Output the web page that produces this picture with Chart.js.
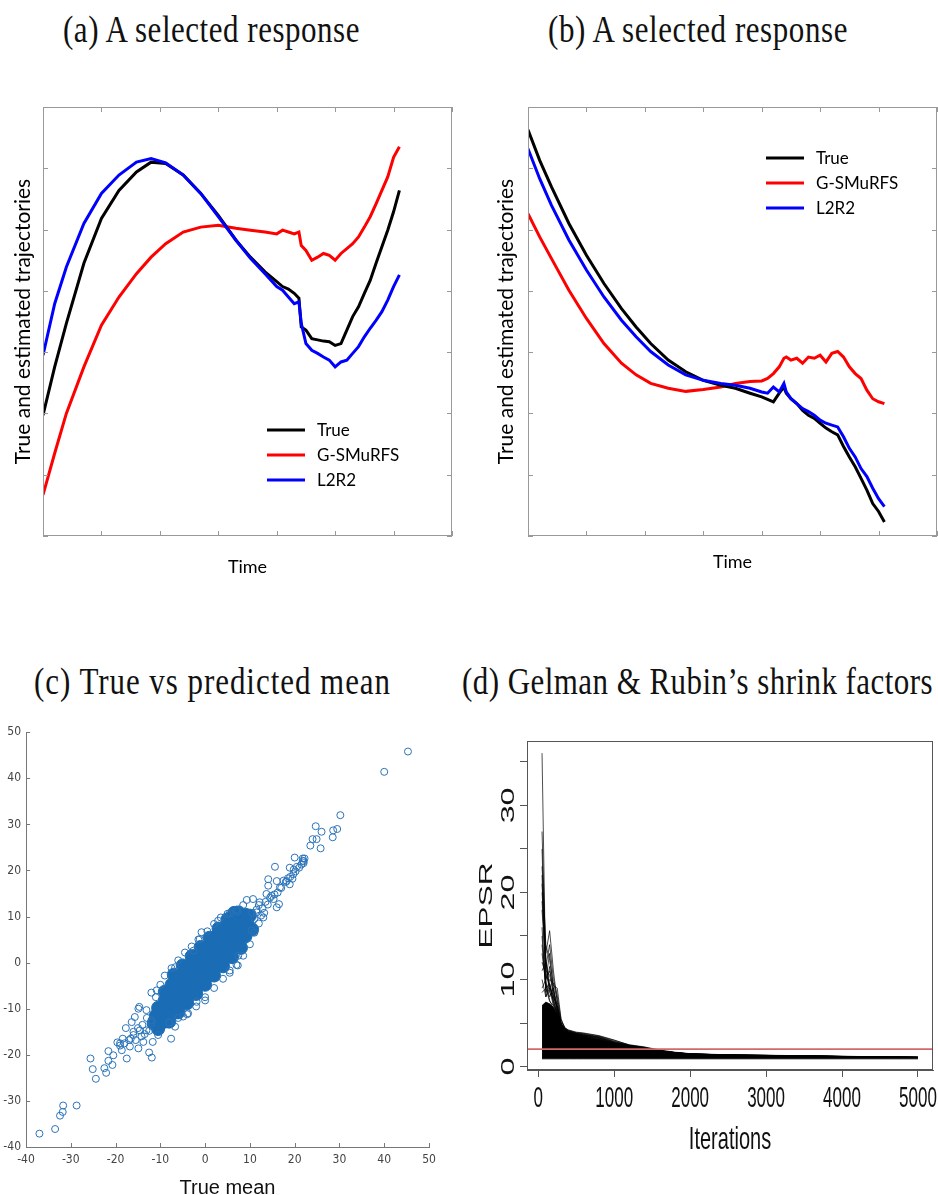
<!DOCTYPE html>
<html>
<head>
<meta charset="utf-8">
<script src="https://cdn.jsdelivr.net/npm/chart.js@4.4.1/dist/chart.umd.min.js"></script>
<style>
  html, body { margin: 0; padding: 0; background: #fff; }
  body { position: relative; width: 938px; height: 1195px; overflow: hidden; }
  .cap { position: absolute; font-family: "Liberation Serif", "Times New Roman", serif; font-size: 31px;
         line-height: 36px; color: #111; white-space: nowrap; transform: scaleY(1.2); transform-origin: 50% 50%; }
  canvas { position: absolute; }
</style>
</head>
<body>
<div class="cap" data-w="297" style="left:63px;top:12px">(a) A selected response</div>
<div class="cap" data-w="300" style="left:548px;top:12px">(b) A selected response</div>
<div class="cap" data-w="357" style="left:34px;top:664px">(c) True vs predicted mean</div>
<div class="cap" data-w="471" style="left:462px;top:664px">(d) Gelman &amp; Rubin’s shrink factors</div>

<canvas id="chartA" width="470" height="500" style="left:0;top:90px"></canvas>
<canvas id="chartB" width="458" height="500" style="left:480px;top:90px"></canvas>
<canvas id="chartC" width="450" height="490" style="left:0;top:720px"></canvas>
<canvas id="chartD" width="478" height="475" style="left:460px;top:720px"></canvas>

<script>
// captions: adjust the letter spacing so each caption has the width of the original
document.querySelectorAll('.cap').forEach(el => {
  const w = el.getBoundingClientRect().width;
  el.style.letterSpacing = ((+el.dataset.w - w) / el.textContent.length) + 'px';
});

// (a) and (b): trajectories (axis units 0..7, no labels)
const timeGrid = [0, 0.2, 0.4, 0.7, 1.0, 1.3, 1.6, 1.85, 2.1, 2.4, 2.7, 3.0, 3.3, 3.55, 3.8, 4.0, 4.1, 4.2, 4.3,
  4.38, 4.42, 4.5, 4.6, 4.7, 4.8, 4.9, 5.0, 5.1, 5.2, 5.3, 5.4, 5.5, 5.6, 5.7, 5.8, 5.9, 6.0, 6.1];

const aTrue = [1.97, 2.76, 3.47, 4.45, 5.18, 5.64, 5.94, 6.10, 6.08, 5.89, 5.59, 5.23, 4.83, 4.55, 4.31, 4.15, 4.07, 4.03, 3.96,
  3.88, 3.41, 3.36, 3.22, 3.20, 3.18, 3.17, 3.11, 3.14, 3.36, 3.58, 3.74, 3.96, 4.17, 4.45, 4.72, 4.99, 5.29, 5.64];
const aGsmurfs = [0.67, 1.35, 2.00, 2.76, 3.44, 3.90, 4.28, 4.55, 4.77, 4.96, 5.04, 5.07, 5.02, 4.99, 4.96, 4.93, 4.99, 4.96, 4.93,
  4.96, 4.74, 4.66, 4.50, 4.55, 4.61, 4.58, 4.50, 4.61, 4.69, 4.77, 4.88, 5.04, 5.21, 5.42, 5.64, 5.86, 6.18, 6.35];
const aL2r2 = [2.95, 3.79, 4.39, 5.10, 5.59, 5.89, 6.10, 6.16, 6.09, 5.89, 5.59, 5.21, 4.83, 4.53, 4.28, 4.07, 4.01, 3.90, 3.79,
  3.82, 3.47, 3.14, 3.03, 2.98, 2.92, 2.87, 2.76, 2.84, 2.87, 2.98, 3.09, 3.25, 3.39, 3.52, 3.66, 3.85, 4.07, 4.26];

const bTrue = [6.63, 6.13, 5.70, 5.10, 4.58, 4.12, 3.71, 3.41, 3.14, 2.87, 2.68, 2.54, 2.46, 2.41, 2.33, 2.27, 2.23, 2.19, 2.33,
  2.43, 2.33, 2.24, 2.16, 2.05, 1.97, 1.92, 1.84, 1.76, 1.70, 1.65, 1.46, 1.29, 1.13, 0.94, 0.75, 0.53, 0.40, 0.23];
const bGsmurfs = [5.26, 4.88, 4.53, 4.01, 3.55, 3.14, 2.82, 2.63, 2.49, 2.41, 2.36, 2.39, 2.43, 2.49, 2.52, 2.53, 2.57, 2.65, 2.76,
  2.90, 2.92, 2.87, 2.90, 2.82, 2.92, 2.90, 2.95, 2.84, 2.98, 3.01, 2.92, 2.76, 2.65, 2.57, 2.38, 2.24, 2.19, 2.16];
const bL2r2 = [6.32, 5.83, 5.40, 4.83, 4.34, 3.90, 3.52, 3.25, 3.01, 2.79, 2.63, 2.54, 2.49, 2.46, 2.41, 2.35, 2.33, 2.43, 2.35,
  2.49, 2.35, 2.24, 2.16, 2.08, 2.03, 1.97, 1.89, 1.84, 1.81, 1.78, 1.62, 1.43, 1.29, 1.10, 0.97, 0.78, 0.61, 0.48];

const seriesNames = ['True', 'G-SMuRFS', 'L2R2'];
const seriesColors = ['#000000', '#ff0000', '#0000ff'];

// (c): predicted vs true mean
const cTickValues = [-40, -30, -20, -10, 0, 10, 20, 30, 40, 50];
// dense centre of the cloud
const cCoreTrue = [-11, -9.5, -8, -6.5, -5, -3.5, -2, -0.5, 1, 2.5, 4, 5.5, 7, 8.5, 10,
  -10.5, -9, -7.5, -6, -4.5, -3, -1.5, 0, 1.5, 3, 4.5, 6, 7.5, 9,
  -11.5, -10, -8.5, -7, -5.5, -4, -2.5, -1, 0.5, 2, 3.5, 5, 6.5, 8, 9.5,
  -9, -7.5, -6, -4.5, -3, -1.5, 0, 1.5, 3, 4.5, 6, 7.5,
  -10.5, -9, -7.5, -6, -4.5, -3, -1.5, 0, 1.5, 3, 4.5, 6, 7.5, 9, 10.5,
  -7, -5, -3, -1, 1, 3, 5, 6.5,
  -8, -6, -4, -2, 0, 2, 4, 6, 8];
const cCorePred = [-11.5, -10, -8.3, -6.8, -5.2, -3.6, -2.1, -0.5, 1, 2.6, 4.2, 5.8, 7.3, 8.8, 10.2,
  -9.8, -8.2, -6.6, -5.0, -3.4, -1.9, -0.3, 1.3, 2.9, 4.4, 6.0, 7.5, 9.0, 10.4,
  -13.2, -11.6, -10, -8.5, -7, -5.5, -4, -2.4, -0.9, 0.6, 2.1, 3.6, 5.1, 6.8, 8.3,
  -6.3, -4.8, -3.2, -1.6, 0, 1.6, 3.2, 4.8, 6.3, 7.9, 9.4, 10.9,
  -14.4, -12.8, -11.3, -9.7, -8.2, -6.6, -5.1, -3.6, -2.0, -0.5, 1.0, 2.6, 4.1, 5.7, 7.2,
  -2.6, -0.6, 1.4, 3.4, 5.4, 7.4, 9.4, 10.8,
  -12.8, -10.8, -8.8, -6.8, -4.8, -2.8, -0.8, 1.2, 3.2];
// individual circles
const cTrueMean = [45.3, 40.0, 30.2, 24.7, 26.0, 28.6, 29.5, 28.5, 24.9, 24.0, 23.5, 25.8, 20.0, 21.8, 21.8, 15.6, 18.9, 19.7,
  18.2, 18.9, 14.1, 16.0, 14.1, 16.7, 16.5, 16.0, 13.7, 10.7, 9.3, 12.2, 14.5, 13.0, 11.5, 10.4, 7.4, 7.3, 5.5, -0.8, -1.2,
  2.9, 5.5, 7.2, -6.7, -2.6,
  10.5, 11.5, 12, 12.8, 13.5, 14, 14.8, 15.3, 11, 12.5, 13.2, 15.5, 16.2, 17, 18, 19, 19.5, 20.2, 21, 21.5, 22, 22.2, 22,
  17.5, 18.5, 19.8, 20.5,
  -10.8, -11.0, -13.1, -14.7, -3.8, -1.9, 0.0, -4.9, -6.7, -7.6, -10.5, -11.7, -12.5, -11.9, -17.7, -19.0, -18.6, -19.6,
  -18.4, -16.6, -16.0, -15.7, -16.4, -14.9, -17.5, -14.9, -13.8, -13.1, -14.6, -25.6, -25.1, -24.4, -22.5, -22.1, -21.6,
  -21.6, -20.5, -20.7, -31.7, -31.8, -32.4, -28.7, -33.5, -37.0,
  -12, -10, -9, -7.5, -6, -4.5, -3, -1.5, 0.5, 2, 3.5, 5, 7, 8.5, -8, -6, -4, -2, 0, 2, 4, 5.5, 7, 8.5, 10, 11, 12,
  -12, -13, -14, -15, -13.5, -12.5, -16, -17, -18, -15.5, -14.2, -16.8, -19, -12];
const cPredMean = [45.8, 41.4, 32.0, 29.6, 28.4, 28.7, 29.0, 27.2, 26.8, 26.8, 25.4, 24.8, 22.8, 22.6, 22.1, 20.8, 20.6, 19.2,
  17.7, 17.0, 18.1, 17.7, 16.7, 16.3, 12.7, 12.0, 14.9, 13.8, 13.6, 13.1, 14.1, 9.8, 10.9, 7.0, 1.5, -0.6, -1.7, 6.6, 5.1,
  9.1, 10.7, 11.1, -1.0, 2.6,
  10.8, 11.5, 12.5, 11.8, 13.2, 12.6, 14.5, 13.8, 9.5, 10.2, 10.8, 14.8, 15.2, 16.2, 17.5, 18.6, 18.2, 19.8, 20.6, 21.3, 22,
  22.6, 21.6, 17.8, 18.3, 20.2, 20.8,
  -6.0, -7.5, -10.3, -9.6, -11.0, -8.5, -8.2, -11.7, -13.9, -16.5, -15.7, -17.2, -19.5, -20.6, -14.2, -17.5, -19.0, -17.3,
  -16.5, -16.5, -15.7, -11.8, -12.9, -10.0, -20.8, -18.6, -17.2, -14.7, -14.7, -20.8, -23.1, -25.2, -22.9, -23.9, -19.2,
  -21.3, -20.1, -22.2, -31.0, -32.4, -33.2, -31.0, -36.1, -37.1,
  -6.5, -4.8, -2.8, -1.2, 0.5, 2.2, 3.5, 5, 6.8, 8.4, 9.8, 10.6, 11.5, 12.5, -13, -12, -11.2, -9.5, -7.5, -5.5, -3.5, -2.2,
  -0.5, 1.5, 4, 6.5, 8.5,
  -13, -12, -13.5, -14.2, -15.5, -14.8, -15, -16.8, -17.5, -16.8, -16, -18.2, -18, -12.5];

// (d): shrink factors (EPSR) per iteration
const dIter = [50, 100, 150, 200, 250, 300, 350, 400, 500, 600, 800, 1000, 1200, 1400, 1600, 1800, 2000, 2500, 3000, 3500, 4000, 4500, 5000];
const dXTicks = [0, 1000, 2000, 3000, 4000, 5000];
const dYTicks = [0, 5, 10, 15, 20, 25, 30, 35];
const dYLabels = [0, 10, 20, 30];
const dBandTop = [7.0, 7.4, 7.2, 6.8, 6.0, 5.0, 4.3, 3.95, 3.6, 3.4, 3.1, 2.7, 2.35, 2.1, 1.8, 1.6, 1.45, 1.32, 1.27, 1.22, 1.17, 1.13, 1.1];
const dBandBottom = [0.88, 0.88, 0.88, 0.88, 0.88, 0.88, 0.88, 0.88, 0.88, 0.88, 0.88, 0.88, 0.88, 0.88, 0.88, 0.88, 0.88, 0.88, 0.88, 0.88, 0.88, 0.88, 0.88];
const dChain01 = [36.0, 9.5, 7.6, 6.6, 5.8, 4.9, 4.3, 4.0, 3.7, 3.6, 3.3, 2.7, 2.35, 2.1, 1.8, 1.6, 1.45, 1.32, 1.28, 1.22, 1.16, 1.1, 1.05];
const dChain02 = [27.0, 12.0, 9.2, 7.5, 6.1, 4.7, 4.2, 3.9, 3.8, 3.6, 3.45, 2.9, 2.45, 2.2, 1.85, 1.6, 1.45, 1.33, 1.28, 1.22, 1.15, 1.1, 1.05];
const dChain03 = [20.0, 13.0, 15.6, 11.0, 7.4, 5.2, 4.5, 4.1, 3.9, 3.8, 3.5, 3.0, 2.5, 2.25, 1.9, 1.65, 1.48, 1.35, 1.3, 1.24, 1.17, 1.12, 1.06];
const dChain04 = [23.0, 14.0, 12.2, 9.3, 9.0, 5.5, 4.4, 4.2, 3.95, 3.85, 3.55, 3.05, 2.45, 2.2, 1.75, 1.6, 1.42, 1.3, 1.27, 1.2, 1.14, 1.1, 1.05];
const dChain05 = [18.0, 11.0, 10.5, 8.5, 7.0, 4.8, 4.3, 4.1, 3.8, 3.7, 3.3, 2.8, 2.4, 2.1, 1.8, 1.58, 1.44, 1.32, 1.27, 1.21, 1.15, 1.1, 1.05];
const dChain06 = [25.0, 10.0, 13.0, 8.8, 6.5, 4.6, 4.1, 3.9, 3.7, 3.5, 3.1, 2.6, 2.3, 2.0, 1.72, 1.55, 1.4, 1.3, 1.25, 1.2, 1.14, 1.09, 1.04];
const dChain07 = [14.0, 9.0, 11.5, 8.0, 6.8, 4.4, 4.0, 3.8, 3.6, 3.4, 3.0, 2.5, 2.2, 1.95, 1.7, 1.52, 1.4, 1.29, 1.25, 1.2, 1.14, 1.09, 1.04];
const dChain08 = [21.0, 12.5, 8.5, 7.8, 6.2, 4.5, 4.0, 3.75, 3.55, 3.35, 2.95, 2.45, 2.15, 1.9, 1.65, 1.5, 1.38, 1.28, 1.24, 1.19, 1.13, 1.08, 1.04];
const dChain09 = [16.0, 8.5, 10.0, 9.6, 7.7, 5.0, 4.2, 3.9, 3.65, 3.45, 3.1, 2.55, 2.2, 1.95, 1.7, 1.52, 1.39, 1.29, 1.25, 1.2, 1.14, 1.09, 1.04];
const dChain10 = [12.0, 10.5, 9.5, 7.2, 6.0, 4.3, 3.9, 3.7, 3.5, 3.3, 2.9, 2.4, 2.1, 1.85, 1.62, 1.48, 1.36, 1.27, 1.23, 1.18, 1.12, 1.08, 1.03];
const dChain11 = [19.0, 11.5, 14.0, 10.0, 8.2, 5.4, 4.4, 4.15, 3.85, 3.75, 3.4, 2.85, 2.4, 2.15, 1.8, 1.58, 1.43, 1.31, 1.26, 1.21, 1.15, 1.1, 1.05];
const dChain12 = [10.0, 8.0, 9.0, 8.2, 6.6, 4.2, 3.8, 3.6, 3.4, 3.2, 2.8, 2.3, 2.0, 1.8, 1.6, 1.45, 1.35, 1.26, 1.22, 1.17, 1.12, 1.07, 1.03];
const dChain13 = [13.0, 9.5, 8.0, 9.0, 7.0, 4.9, 4.2, 3.9, 3.7, 3.5, 3.2, 2.7, 2.3, 2.05, 1.75, 1.55, 1.42, 1.3, 1.25, 1.2, 1.14, 1.09, 1.04];
const dChain14 = [11.0, 12.0, 8.8, 7.0, 5.8, 4.6, 4.1, 3.85, 3.6, 3.45, 3.05, 2.55, 2.25, 2.0, 1.7, 1.52, 1.4, 1.29, 1.24, 1.19, 1.13, 1.08, 1.04];
const dChain15 = [9.0, 10.0, 11.0, 9.0, 6.2, 4.7, 4.2, 3.95, 3.7, 3.55, 3.2, 2.65, 2.3, 2.05, 1.75, 1.56, 1.42, 1.3, 1.25, 1.2, 1.14, 1.09, 1.04];
const dChain16 = [15.0, 9.0, 7.5, 7.0, 6.4, 4.8, 4.3, 4.0, 3.75, 3.6, 3.25, 2.75, 2.4, 2.1, 1.8, 1.58, 1.44, 1.31, 1.26, 1.21, 1.15, 1.1, 1.05];
const dChain17 = [8.5, 9.0, 9.5, 7.5, 6.0, 4.5, 4.0, 3.8, 3.55, 3.4, 3.0, 2.5, 2.2, 1.95, 1.68, 1.5, 1.38, 1.28, 1.24, 1.19, 1.13, 1.08, 1.04];
const dChain18 = [22.0, 8.0, 9.5, 8.0, 6.9, 4.9, 4.35, 4.05, 3.8, 3.65, 3.35, 2.8, 2.4, 2.15, 1.82, 1.6, 1.45, 1.32, 1.27, 1.22, 1.16, 1.1, 1.05];
const dChains = [dChain01, dChain02, dChain03, dChain04, dChain05, dChain06, dChain07, dChain08, dChain09,
  dChain10, dChain11, dChain12, dChain13, dChain14, dChain15, dChain16, dChain17, dChain18];
const dThresholdX = [-148, 5198];
const dThreshold = [2, 2];

const toXY = (xs, ys) => xs.map((x, i) => ({ x: x, y: ys[i] }));
const fixedTicks = vals => s => { s.ticks = vals.map(v => ({ value: v })); };

// box round the plot area, with short tick marks pointing inwards
const frame = {
  id: 'frame',
  afterDatasetsDraw(chart, args, opts) {
    const { ctx, chartArea: a, scales } = chart;
    const sides = opts.sides || [];
    const len = opts.tick || 0;
    ctx.save();
    ctx.strokeStyle = opts.color;
    ctx.lineWidth = 1;
    if (opts.box) {
      ctx.strokeRect(Math.round(a.left) + 0.5, Math.round(a.top) + 0.5,
        Math.round(a.right - a.left) - 1, Math.round(a.bottom - a.top) - 1);
    }
    ctx.beginPath();
    scales.x.ticks.forEach(t => {
      const px = Math.round(scales.x.getPixelForValue(t.value)) + 0.5;
      if (sides.includes('bottom')) { ctx.moveTo(px, a.bottom); ctx.lineTo(px, a.bottom - len); }
      if (sides.includes('top')) { ctx.moveTo(px, a.top); ctx.lineTo(px, a.top + len); }
    });
    scales.y.ticks.forEach(t => {
      const py = Math.round(scales.y.getPixelForValue(t.value)) + 0.5;
      if (sides.includes('left')) { ctx.moveTo(a.left, py); ctx.lineTo(a.left + len, py); }
      if (sides.includes('right')) { ctx.moveTo(a.right, py); ctx.lineTo(a.right - len, py); }
    });
    ctx.stroke();
    ctx.restore();
  }
};

// legend drawn inside the plot area
const lineLegend = {
  id: 'lineLegend',
  afterDraw(chart, args, opts) {
    const { ctx, chartArea: a } = chart;
    ctx.save();
    ctx.font = opts.font;
    ctx.textBaseline = 'middle';
    chart.data.datasets.forEach((ds, i) => {
      const x = a.left + opts.x;
      const y = a.top + opts.y + i * opts.gap;
      ctx.strokeStyle = ds.borderColor;
      ctx.lineWidth = 3;
      ctx.beginPath();
      ctx.moveTo(x, y);
      ctx.lineTo(x + opts.len, y);
      ctx.stroke();
      ctx.fillStyle = '#000';
      ctx.fillText(ds.label, x + opts.len + opts.textGap, y + 1);
    });
    ctx.restore();
  }
};

// the R panel was squeezed sideways in the paper, so its labels look tall and narrow
function tallText(ctx, text, x, y, k, rotated) {
  ctx.save();
  ctx.translate(x, y);
  if (rotated) { ctx.rotate(-Math.PI / 2); ctx.scale(k, 1); } else { ctx.scale(1, k); }
  ctx.fillText(text, 0, 0);
  ctx.restore();
}
const tallLabels = {
  id: 'tallLabels',
  afterDraw(chart, args, opts) {
    const { ctx, chartArea: a, scales: { x, y } } = chart;
    ctx.save();
    ctx.fillStyle = '#111';
    ctx.textAlign = 'center';
    ctx.textBaseline = 'middle';
    ctx.font = '17px "Liberation Sans", Arial, sans-serif';
    dXTicks.forEach(v => tallText(ctx, String(v), x.getPixelForValue(v), a.bottom + 29, 1.7, false));
    ctx.font = '19px "Liberation Sans", Arial, sans-serif';
    dYLabels.forEach(v => tallText(ctx, String(v), a.left - 18, y.getPixelForValue(v), 1.7, true));
    ctx.font = '20px "Liberation Sans", Arial, sans-serif';
    tallText(ctx, opts.xTitle, (a.left + a.right) / 2, a.bottom + 70, 1.55, false);
    ctx.font = '18px "Liberation Sans", Arial, sans-serif';
    tallText(ctx, opts.yTitle, a.left - 40, (a.top + a.bottom) / 2, 1.75, true);
    ctx.restore();
  }
};

function trajectoryChart(id, values, o) {
  return new Chart(document.getElementById(id), {
    type: 'line',
    data: {
      datasets: values.map((v, i) => ({
        label: seriesNames[i],
        data: toXY(timeGrid, v),
        borderColor: seriesColors[i],
        borderWidth: 3,
        pointRadius: 0,
        tension: 0,
        order: i === 2 ? 0 : i + 1
      }))
    },
    options: {
      responsive: false,
      animation: false,
      events: [],
      layout: { padding: o.padding },
      plugins: {
        legend: { display: false },
        tooltip: { enabled: false },
        frame: { color: '#999', box: true, tick: 5, sides: ['left', 'right', 'top', 'bottom'] },
        lineLegend: { font: '17px Lato, "Open Sans", sans-serif', x: o.legend[0], y: o.legend[1], gap: 25, len: 38, textGap: 12 }
      },
      scales: {
        x: {
          type: 'linear', min: 0, max: 7,
          ticks: { display: false, stepSize: 1 },
          grid: { display: false }, border: { display: false },
          title: { display: true, text: 'Time', color: '#000', font: { family: 'Lato, "Open Sans", sans-serif', size: 18 },
                   padding: { top: 0, bottom: o.xTitle } },
          afterFit: s => { s.height = o.xHeight; }
        },
        y: {
          min: 0, max: 7,
          ticks: { display: false, stepSize: 1 },
          grid: { display: false }, border: { display: false },
          title: { display: true, text: 'True and estimated trajectories', color: '#000',
                   font: { family: 'Lato, "Open Sans", sans-serif', size: 21 },
                   padding: { top: o.yTitle, bottom: 0 } },
          afterFit: s => { s.width = o.yWidth; }
        }
      }
    },
    plugins: [frame, lineLegend]
  });
}

trajectoryChart('chartA', [aTrue, aGsmurfs, aL2r2], {
  padding: { left: 0, top: 17, right: 18, bottom: 0 },
  xHeight: 54, yWidth: 43, xTitle: 12, yTitle: 11, legend: [224, 323]
});
trajectoryChart('chartB', [bTrue, bGsmurfs, bL2r2], {
  padding: { left: 0, top: 17, right: 1, bottom: 0 },
  xHeight: 54, yWidth: 48, xTitle: 17, yTitle: 14, legend: [238, 51]
});

// (c)
const narrow = '"Liberation Sans Narrow", "DejaVu Sans Condensed", sans-serif';
new Chart(document.getElementById('chartC'), {
  type: 'scatter',
  data: {
    datasets: [
      { data: toXY(cTrueMean, cPredMean), pointRadius: 3.5, pointBorderWidth: 1,
        pointBackgroundColor: 'rgba(0,0,0,0)', pointBorderColor: '#2a73b8' },
      { data: toXY(cCoreTrue, cCorePred), pointRadius: 6.5, pointBorderWidth: 1,
        pointBackgroundColor: '#1a6db5', pointBorderColor: '#1a6db5' }
    ]
  },
  options: {
    responsive: false,
    animation: false,
    events: [],
    layout: { padding: { left: 0, top: 11, right: 21, bottom: 0 } },
    plugins: {
      legend: { display: false },
      tooltip: { enabled: false },
      frame: { color: '#777', box: false, tick: 4, sides: ['left', 'bottom'] }
    },
    scales: {
      x: {
        type: 'linear', min: -40, max: 50,
        afterBuildTicks: fixedTicks(cTickValues),
        ticks: { color: '#444', font: { family: narrow, size: 12 }, padding: 6, maxRotation: 0 },
        grid: { display: false, drawTicks: false },
        border: { display: true, color: '#777' },
        title: { display: true, text: 'True mean', color: '#111', font: { family: '"Liberation Sans", Arial, sans-serif', size: 20 },
                 padding: { top: 0, bottom: 10 } },
        afterFit: s => { s.height = 63; }
      },
      y: {
        min: -40, max: 50,
        afterBuildTicks: fixedTicks(cTickValues),
        ticks: { color: '#444', font: { family: narrow, size: 12 }, padding: 5 },
        grid: { display: false, drawTicks: false },
        border: { display: true, color: '#777' },
        afterFit: s => { s.width = 26; }
      }
    }
  },
  plugins: [frame]
});

// (d)
const dDatasets = [
  { data: toXY(dThresholdX, dThreshold), borderColor: '#d06a6a', borderWidth: 1.6, pointRadius: 0, order: 0 },
  { data: toXY(dIter, dBandTop), borderColor: '#000', borderWidth: 0.8, backgroundColor: '#000', fill: '+1', pointRadius: 0, order: 2 },
  { data: toXY(dIter, dBandBottom), borderColor: '#000', borderWidth: 0.8, pointRadius: 0, order: 2 }
].concat(dChains.map(c => ({ data: toXY(dIter, c), borderColor: '#000', borderWidth: 0.7, pointRadius: 0, order: 1 })));

new Chart(document.getElementById('chartD'), {
  type: 'line',
  data: { datasets: dDatasets },
  options: {
    responsive: false,
    animation: false,
    events: [],
    layout: { padding: { left: 0, top: 21, right: 5, bottom: 0 } },
    plugins: {
      legend: { display: false },
      tooltip: { enabled: false },
      frame: { color: '#555', box: true, tick: 0, sides: [] },
      tallLabels: { xTitle: 'Iterations', yTitle: 'EPSR' }
    },
    scales: {
      x: {
        type: 'linear', min: -148, max: 5198,
        afterBuildTicks: fixedTicks(dXTicks),
        ticks: { display: false },
        grid: { display: true, drawOnChartArea: false, drawTicks: true, tickLength: 7, color: '#555' },
        border: { display: true, color: '#555' },
        afterFit: s => { s.height = 125; }
      },
      y: {
        min: -0.4, max: 37.4,
        afterBuildTicks: fixedTicks(dYTicks),
        ticks: { display: false },
        grid: { display: true, drawOnChartArea: false, drawTicks: true, tickLength: 7, color: '#555' },
        border: { display: true, color: '#555' },
        afterFit: s => { s.width = 67; }
      }
    }
  },
  plugins: [frame, tallLabels]
});
</script>
</body>
</html>
